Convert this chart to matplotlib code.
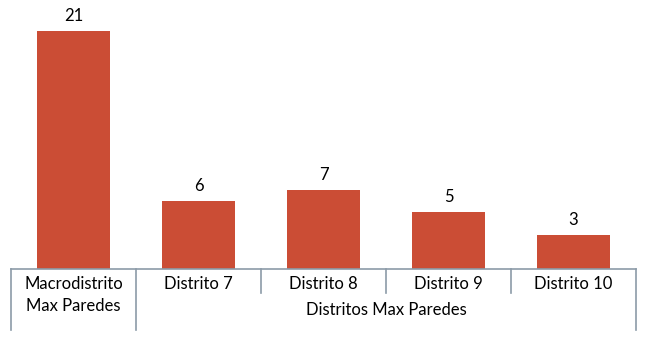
import matplotlib.pyplot as plt

# data
categories = ['Macrodistrito\nMax Paredes', 'Distrito 7', 'Distrito 8', 'Distrito 9', 'Distrito 10']
values = [21, 6, 7, 5, 3]
group_label = 'Distritos Max Paredes'
group_members = [1, 2, 3, 4]

bar_color = '#CB4D35'
line_color = '#8C9BA8'
plt.rcParams['font.family'] = ['Lato', 'DejaVu Sans']

fig = plt.figure(figsize=(6.5, 3.45), dpi=100)
ax = fig.add_axes([11 / 650, 76 / 345, 625 / 650, 238 / 345])

x = list(range(len(values)))
bars = ax.bar(x, values, width=0.58, color=bar_color)
ax.set_xlim(-0.5, len(values) - 0.5)
ax.set_ylim(0, max(values))

for b, v in zip(bars, values):
    ax.annotate(str(v), (b.get_x() + b.get_width() / 2, v), xytext=(0, 5),
                textcoords='offset points', ha='center', va='bottom',
                fontsize=12, color='black')

for s in ax.spines.values():
    s.set_visible(False)
ax.set_xticks([])
ax.set_yticks([])

trans = ax.get_xaxis_transform()
px = 1 / 238  # one pixel in axes fraction (vertical)

# axis line
ax.plot([-0.5, len(values) - 0.5], [0, 0], color=line_color, lw=1.2,
        transform=trans, clip_on=False)

# separators
for i in range(len(values) + 1):
    b = i - 0.5
    if i in (0, 1, len(values)):
        depth = 61
    else:
        depth = 24
    ax.plot([b, b], [0, -depth * px], color=line_color, lw=1.2,
            transform=trans, clip_on=False)

# category labels
for i, c in enumerate(categories):
    ax.text(i, -7 * px, c, transform=trans, ha='center', va='top',
            fontsize=12, linespacing=1.45, color='black')

gx = (group_members[0] + group_members[-1]) / 2
ax.text(gx, -33 * px, group_label, transform=trans, ha='center', va='top',
        fontsize=12, color='black')

fig.savefig('out.png', dpi=100)
